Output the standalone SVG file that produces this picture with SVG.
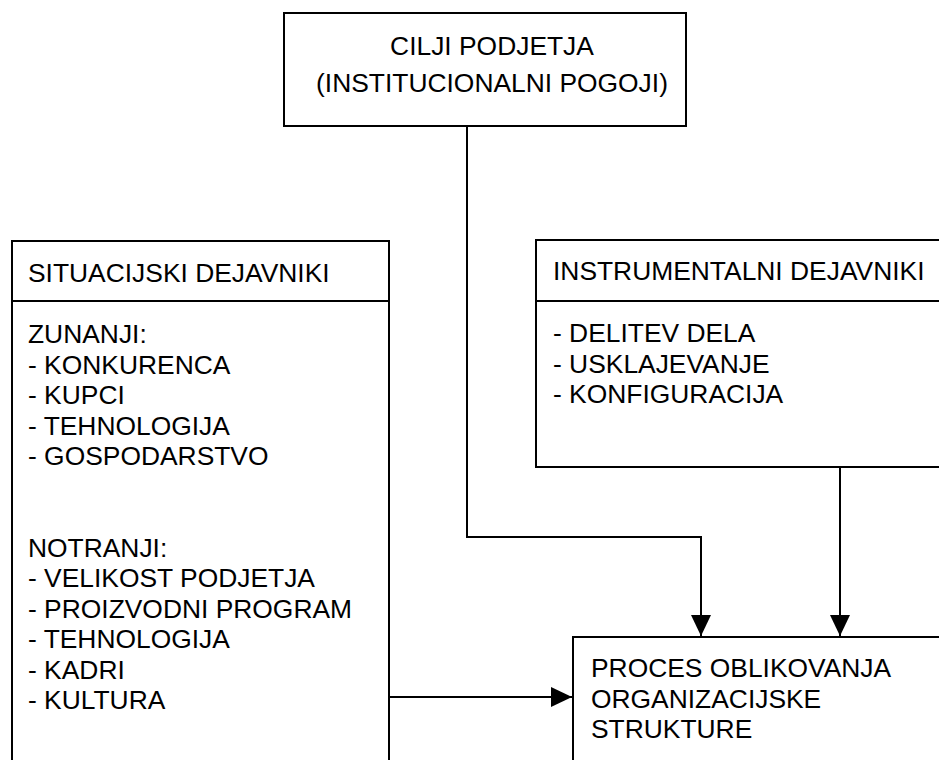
<svg xmlns="http://www.w3.org/2000/svg" width="939" height="760" viewBox="0 0 939 760">
  <style>
    .box { fill: #ffffff; stroke: #000000; stroke-width: 2; }
    .rule { stroke: #000000; stroke-width: 2; }
    .txt { font-family: "Liberation Sans", Arial, sans-serif; font-size: 26.4px; fill: #000000; }
    .wire { fill: none; stroke: #000000; stroke-width: 2; }
  </style>
  <defs>
    <marker id="arrow" markerUnits="userSpaceOnUse" markerWidth="21" markerHeight="20" refX="21" refY="10" orient="auto">
      <path d="M0,0 L21,10 L0,20 Z" fill="#000000"/>
    </marker>
  </defs>

  <rect width="939" height="760" fill="#ffffff"/>

  <!-- goals box -->
  <g id="cilji">
    <rect class="box" x="284" y="13" width="402" height="113"/>
    <text class="txt" x="492" y="55" text-anchor="middle">CILJI PODJETJA</text>
    <text class="txt" x="492" y="92" text-anchor="middle">(INSTITUCIONALNI POGOJI)</text>
  </g>

  <!-- situational factors -->
  <g id="situacijski">
    <rect class="box" x="12" y="241" width="377" height="540"/>
    <line class="rule" x1="12" y1="301" x2="389" y2="301"/>
    <text class="txt" x="28" y="282">SITUACIJSKI DEJAVNIKI</text>
    <text class="txt" x="28" y="343">ZUNANJI:</text>
    <text class="txt" x="28" y="373.5">- KONKURENCA</text>
    <text class="txt" x="28" y="404">- KUPCI</text>
    <text class="txt" x="28" y="434.5">- TEHNOLOGIJA</text>
    <text class="txt" x="28" y="465">- GOSPODARSTVO</text>
    <text class="txt" x="28" y="556.5">NOTRANJI:</text>
    <text class="txt" x="28" y="587">- VELIKOST PODJETJA</text>
    <text class="txt" x="28" y="617.5">- PROIZVODNI PROGRAM</text>
    <text class="txt" x="28" y="648">- TEHNOLOGIJA</text>
    <text class="txt" x="28" y="678.5">- KADRI</text>
    <text class="txt" x="28" y="709">- KULTURA</text>
  </g>

  <!-- instrumental factors -->
  <g id="instrumentalni">
    <rect class="box" x="536" y="240" width="420" height="227"/>
    <line class="rule" x1="536" y1="301" x2="956" y2="301"/>
    <text class="txt" x="553" y="280">INSTRUMENTALNI DEJAVNIKI</text>
    <text class="txt" x="553" y="342">- DELITEV DELA</text>
    <text class="txt" x="553" y="372.5">- USKLAJEVANJE</text>
    <text class="txt" x="553" y="403">- KONFIGURACIJA</text>
  </g>

  <!-- design process -->
  <g id="proces">
    <rect class="box" x="573" y="637" width="400" height="160"/>
    <text class="txt" x="591" y="677">PROCES OBLIKOVANJA</text>
    <text class="txt" x="591" y="707.5">ORGANIZACIJSKE</text>
    <text class="txt" x="591" y="738">STRUKTURE</text>
  </g>

  <!-- connectors -->
  <g id="connectors">
    <path class="wire" d="M467,126 V537 H701 V636" marker-end="url(#arrow)"/>
    <path class="wire" d="M840,467 V636" marker-end="url(#arrow)"/>
    <path class="wire" d="M389,697 H572" marker-end="url(#arrow)"/>
  </g>
</svg>
